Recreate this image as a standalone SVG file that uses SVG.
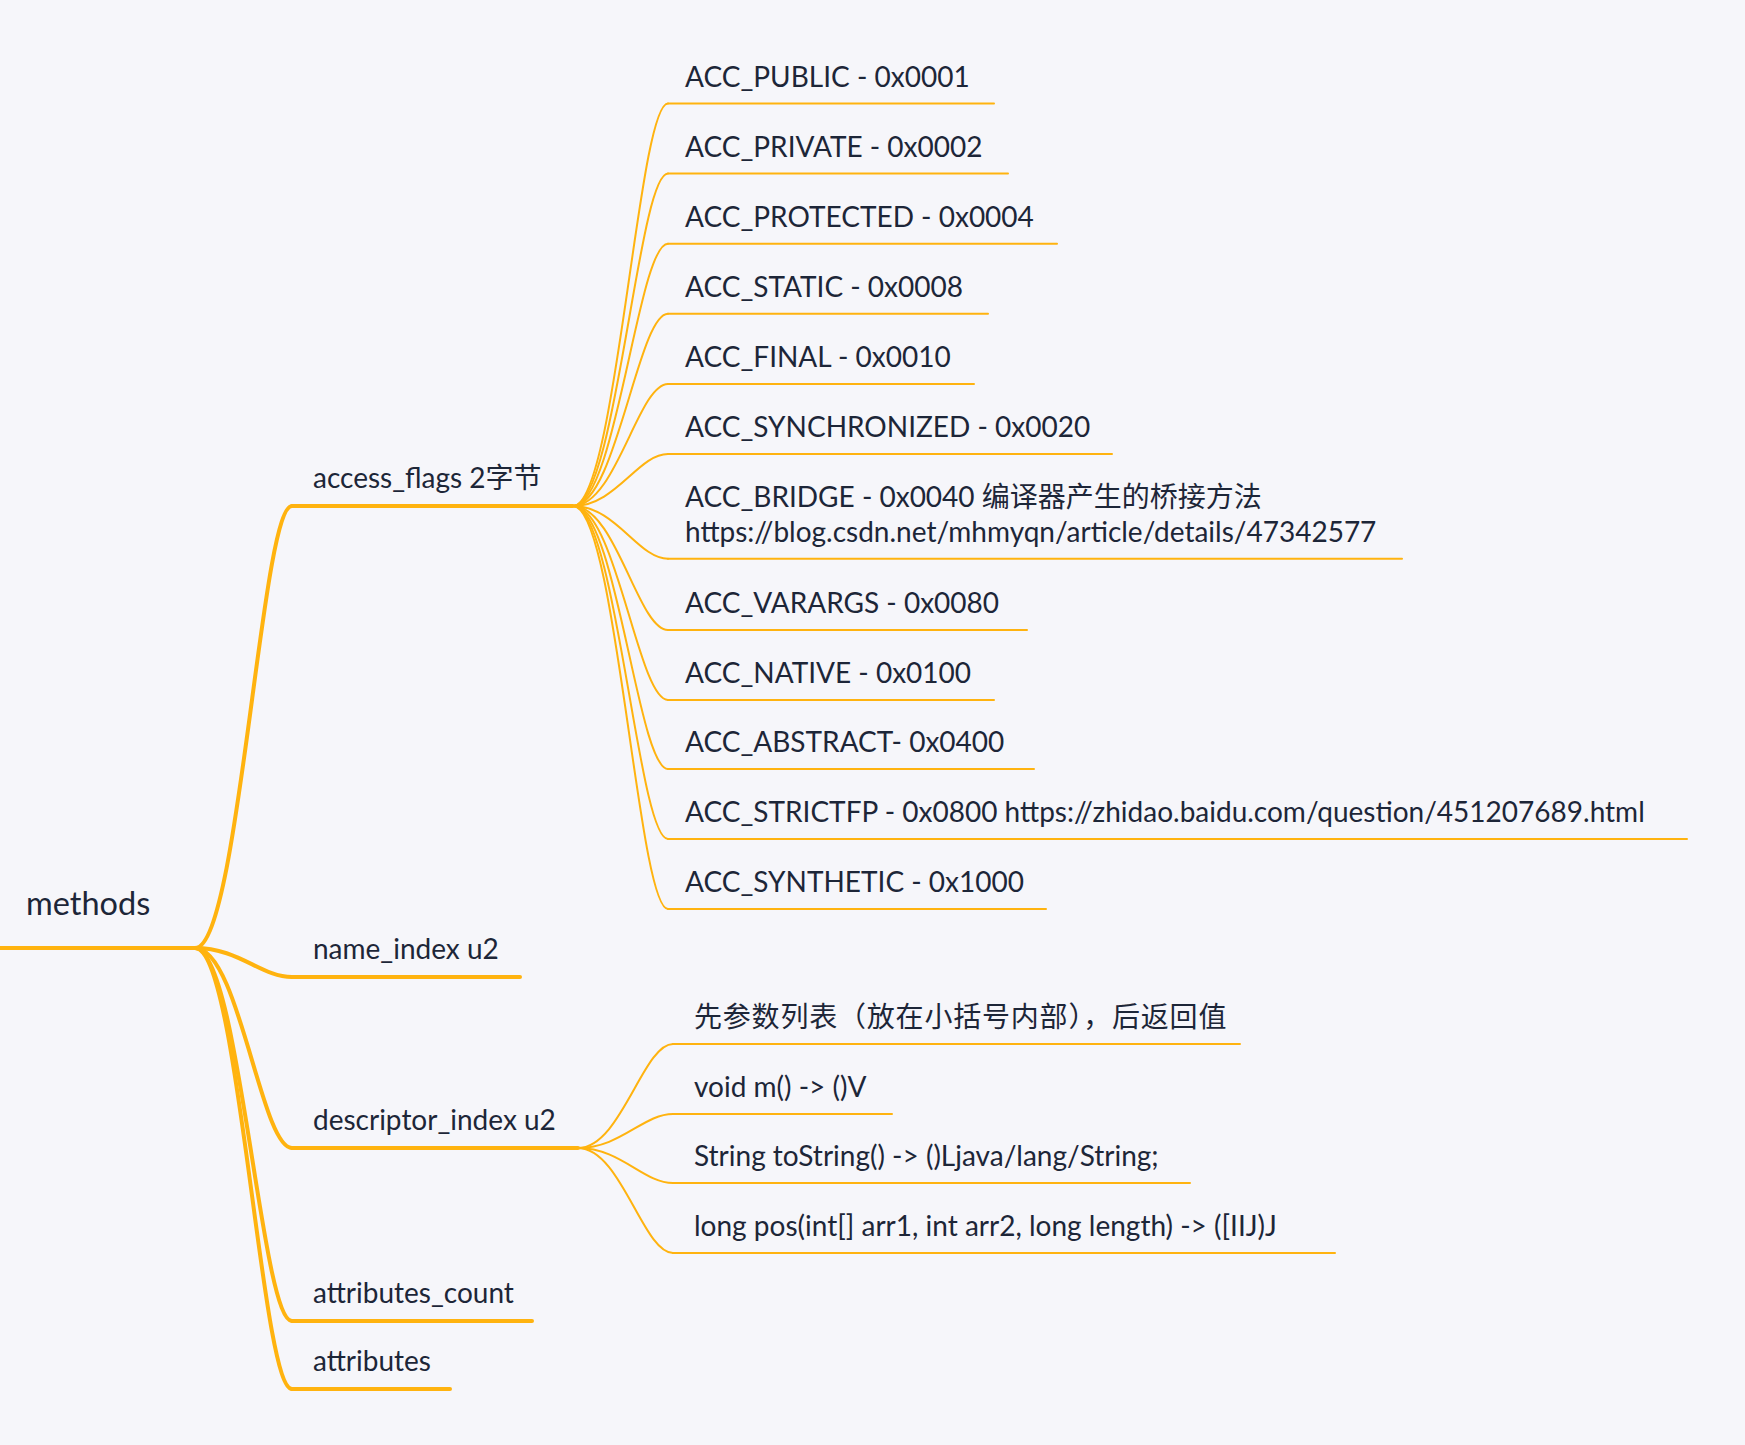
<svg xmlns="http://www.w3.org/2000/svg" width="1745" height="1445" viewBox="0 0 1745 1445">
  <style>
    .bg { fill: #F6F6FA; }
    text { font-family: Lato, "Noto Sans CJK SC", sans-serif; fill: #1D2638; }
    .t0 { font-size: 32.5px; }
    .t1 { font-size: 28px; }
    .t2 { font-size: 28px; }
    .cjk { letter-spacing: 0.8px; }
    .ln1 { fill: none; stroke: #FFB30F; stroke-width: 4; stroke-linecap: round; }
    .ln2 { fill: none; stroke: #FFB30F; stroke-width: 2; stroke-linecap: round; }
  </style>
  <rect class="bg" x="0" y="0" width="1745" height="1445"/>

  <!-- branch curves -->
  <g id="connectors">
    <!-- root to first level -->
    <path class="ln1" d="M195 948 C239 948, 261 506, 292 506"/>
    <path class="ln1" d="M195 948 C239 948, 261 977, 292 977"/>
    <path class="ln1" d="M195 948 C239 948, 261 1148, 292 1148"/>
    <path class="ln1" d="M195 948 C239 948, 261 1321, 292 1321"/>
    <path class="ln1" d="M195 948 C239 948, 261 1389, 292 1389"/>
    <!-- access_flags to its flags -->
    <path class="ln2" d="M573 506 C616 506, 638 103.5, 668 103.5"/>
    <path class="ln2" d="M573 506 C616 506, 638 173.6, 668 173.6"/>
    <path class="ln2" d="M573 506 C616 506, 638 243.7, 668 243.7"/>
    <path class="ln2" d="M573 506 C616 506, 638 313.8, 668 313.8"/>
    <path class="ln2" d="M573 506 C616 506, 638 384, 668 384"/>
    <path class="ln2" d="M573 506 C616 506, 638 454, 668 454"/>
    <path class="ln2" d="M573 506 C616 506, 638 558.7, 668 558.7"/>
    <path class="ln2" d="M573 506 C616 506, 638 630, 668 630"/>
    <path class="ln2" d="M573 506 C616 506, 638 700, 668 700"/>
    <path class="ln2" d="M573 506 C616 506, 638 769, 668 769"/>
    <path class="ln2" d="M573 506 C616 506, 638 839, 668 839"/>
    <path class="ln2" d="M573 506 C616 506, 638 909, 668 909"/>
    <!-- descriptor_index to its examples -->
    <path class="ln2" d="M578 1148 C621 1148, 643 1044, 673 1044"/>
    <path class="ln2" d="M578 1148 C621 1148, 643 1114, 673 1114"/>
    <path class="ln2" d="M578 1148 C621 1148, 643 1183, 673 1183"/>
    <path class="ln2" d="M578 1148 C621 1148, 643 1253, 673 1253"/>
  </g>

  <g id="methods">
    <path class="ln1" d="M0 948 H195"/>
    <text class="t0" x="26" y="915">methods</text>
  </g>

  <g id="access_flags">
    <path class="ln1" d="M292 506 H573"/>
    <text class="t1" x="313" y="488">access_flags 2字节</text>
  </g>
  <g id="acc_public">
    <path class="ln2" d="M668 103.5 H994"/>
    <text class="t2" x="685" y="86.5">ACC_PUBLIC - 0x0001</text>
  </g>
  <g id="acc_private">
    <path class="ln2" d="M668 173.6 H1008"/>
    <text class="t2" x="685" y="156.6">ACC_PRIVATE - 0x0002</text>
  </g>
  <g id="acc_protected">
    <path class="ln2" d="M668 243.7 H1057"/>
    <text class="t2" x="685" y="226.7">ACC_PROTECTED - 0x0004</text>
  </g>
  <g id="acc_static">
    <path class="ln2" d="M668 313.8 H988"/>
    <text class="t2" x="685" y="296.8">ACC_STATIC - 0x0008</text>
  </g>
  <g id="acc_final">
    <path class="ln2" d="M668 384 H974"/>
    <text class="t2" x="685" y="367">ACC_FINAL - 0x0010</text>
  </g>
  <g id="acc_synchronized">
    <path class="ln2" d="M668 454 H1112"/>
    <text class="t2" x="685" y="437">ACC_SYNCHRONIZED - 0x0020</text>
  </g>
  <g id="acc_bridge">
    <path class="ln2" d="M668 558.7 H1402"/>
    <text class="t2" x="685" y="506.7">ACC_BRIDGE - 0x0040 编译器产生的桥接方法</text>
    <text class="t2" x="685" y="541.7">https://blog.csdn.net/mhmyqn/article/details/47342577</text>
  </g>
  <g id="acc_varargs">
    <path class="ln2" d="M668 630 H1027"/>
    <text class="t2" x="685" y="613">ACC_VARARGS - 0x0080</text>
  </g>
  <g id="acc_native">
    <path class="ln2" d="M668 700 H994"/>
    <text class="t2" x="685" y="683">ACC_NATIVE - 0x0100</text>
  </g>
  <g id="acc_abstract">
    <path class="ln2" d="M668 769 H1034"/>
    <text class="t2" x="685" y="752">ACC_ABSTRACT- 0x0400</text>
  </g>
  <g id="acc_strictfp">
    <path class="ln2" d="M668 839 H1687"/>
    <text class="t2" x="685" y="822">ACC_STRICTFP - 0x0800 https://zhidao.baidu.com/question/451207689.html</text>
  </g>
  <g id="acc_synthetic">
    <path class="ln2" d="M668 909 H1046"/>
    <text class="t2" x="685" y="892">ACC_SYNTHETIC - 0x1000</text>
  </g>

  <g id="name_index">
    <path class="ln1" d="M292 977 H520"/>
    <text class="t1" x="313" y="959">name_index u2</text>
  </g>

  <g id="descriptor_index">
    <path class="ln1" d="M292 1148 H578"/>
    <text class="t1" x="313" y="1130">descriptor_index u2</text>
  </g>
  <g id="desc_rule">
    <path class="ln2" d="M673 1044 H1240"/>
    <text class="t2 cjk" x="694" y="1027">先参数列表（放在小括号内部），后返回值</text>
  </g>
  <g id="desc_void">
    <path class="ln2" d="M673 1114 H892"/>
    <text class="t2" x="694" y="1097">void m() -&gt; ()V</text>
  </g>
  <g id="desc_string">
    <path class="ln2" d="M673 1183 H1190"/>
    <text class="t2" x="694" y="1166">String toString() -&gt; ()Ljava/lang/String;</text>
  </g>
  <g id="desc_long">
    <path class="ln2" d="M673 1253 H1335"/>
    <text class="t2" x="694" y="1236">long pos(int[] arr1, int arr2, long length) -&gt; ([IIJ)J</text>
  </g>

  <g id="attributes_count">
    <path class="ln1" d="M292 1321 H532"/>
    <text class="t1" x="313" y="1303">attributes_count</text>
  </g>
  <g id="attributes">
    <path class="ln1" d="M292 1389 H450"/>
    <text class="t1" x="313" y="1371">attributes</text>
  </g>
</svg>
